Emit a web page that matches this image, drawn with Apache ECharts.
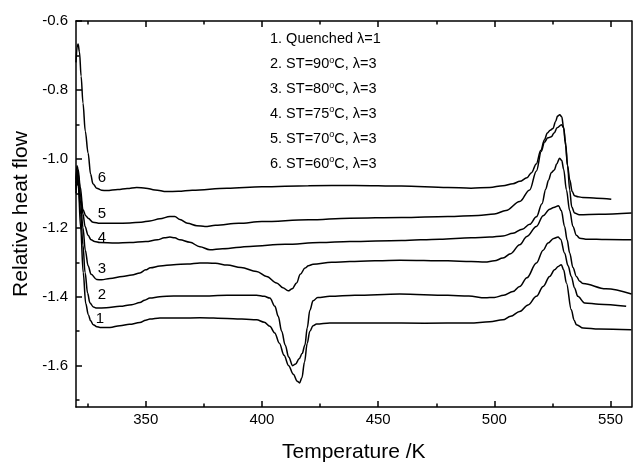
<!DOCTYPE html>
<html>
<head>
<meta charset="utf-8">
<script src="https://cdn.jsdelivr.net/npm/echarts@6/dist/echarts.min.js"></script>
<style>html,body{margin:0;padding:0;background:#fff}#c{width:633px;height:463px}</style>
</head>
<body>
<div id="c"></div>
<script>
// ---- data (Temperature K, relative heat flow) ----
const curve1 = [[320.0,-1.10],[320.4,-1.06],[321.0,-1.08],[322,-1.20],[323.1,-1.33],[324.2,-1.42],[325.3,-1.452],[326.3,-1.470],[327.4,-1.481],[329,-1.487],[330.3,-1.489],[334.6,-1.489],[338.9,-1.484],[343,-1.480],[347.5,-1.475],[350,-1.468],[351.8,-1.465],[356.1,-1.462],[365,-1.462],[373.3,-1.461],[385,-1.463],[397.7,-1.467],[401,-1.474],[403.4,-1.486],[405.5,-1.505],[407.5,-1.535],[409.5,-1.57],[411.5,-1.60],[413.5,-1.625],[415.2,-1.645],[416.2,-1.650],[417.2,-1.635],[418.3,-1.590],[419.5,-1.535],[420.6,-1.50],[422,-1.484],[423.5,-1.479],[429.2,-1.476],[450,-1.476],[470,-1.477],[489.4,-1.476],[498,-1.473],[503.7,-1.467],[507,-1.457],[510.9,-1.443],[514.5,-1.424],[518.1,-1.399],[521,-1.370],[523.8,-1.341],[525.9,-1.322],[527.5,-1.312],[528.8,-1.307],[529.8,-1.322],[531,-1.360],[533.1,-1.438],[534.3,-1.468],[535.3,-1.481],[538.2,-1.491],[545,-1.494],[559,-1.496]];
const curve2 = [[320.0,-1.09],[320.4,-1.05],[321.0,-1.07],[322,-1.16],[323.0,-1.25],[323.9,-1.33],[325,-1.39],[326.0,-1.418],[327.5,-1.430],[328.9,-1.433],[333,-1.432],[338.9,-1.428],[344,-1.423],[347.5,-1.417],[349.5,-1.410],[351.8,-1.404],[356,-1.400],[362,-1.398],[373.3,-1.398],[385,-1.396],[397.7,-1.396],[401,-1.399],[403.4,-1.404],[405.6,-1.428],[407,-1.457],[408.5,-1.50],[410,-1.54],[411.5,-1.575],[413.2,-1.600],[414.5,-1.595],[416,-1.580],[417.3,-1.565],[418.5,-1.540],[419.5,-1.49],[420.6,-1.44],[422,-1.412],[424,-1.402],[429.2,-1.399],[440,-1.396],[459.3,-1.392],[480,-1.396],[489,-1.398],[496,-1.403],[500,-1.402],[504,-1.396],[508,-1.385],[510.9,-1.370],[514,-1.345],[518.1,-1.302],[521,-1.265],[523.1,-1.244],[525.5,-1.231],[527.4,-1.227],[528.5,-1.233],[530.2,-1.273],[531.7,-1.31],[533.1,-1.341],[534.5,-1.375],[535.9,-1.399],[538.8,-1.418],[545,-1.422],[556.7,-1.428]];
const curve3 = [[320.0,-1.08],[320.4,-1.04],[321.0,-1.06],[322,-1.13],[323.0,-1.20],[324.0,-1.265],[325.2,-1.31],[326.5,-1.335],[328.9,-1.350],[331,-1.351],[334.6,-1.347],[340,-1.341],[344,-1.337],[347.5,-1.331],[350,-1.322],[352,-1.316],[356.1,-1.311],[362,-1.307],[368,-1.305],[373.3,-1.302],[380,-1.303],[385,-1.308],[391,-1.315],[397.7,-1.327],[402,-1.341],[406.3,-1.360],[409,-1.374],[411.3,-1.383],[413,-1.377],[414.9,-1.360],[416.5,-1.335],[418.5,-1.317],[420,-1.310],[422,-1.306],[430,-1.300],[437.8,-1.298],[459.3,-1.294],[480,-1.296],[490,-1.298],[496,-1.299],[500,-1.296],[503.7,-1.288],[507,-1.275],[510.9,-1.249],[514,-1.225],[518.1,-1.196],[521,-1.165],[523.8,-1.146],[525.5,-1.141],[527.6,-1.136],[528.8,-1.150],[530.2,-1.196],[531.3,-1.235],[532.4,-1.273],[533.8,-1.315],[535.3,-1.341],[536.7,-1.355],[538.2,-1.362],[548,-1.377],[559,-1.392]];
const curve4 = [[320.0,-1.07],[320.4,-1.03],[321.0,-1.045],[322,-1.11],[323.0,-1.16],[323.9,-1.196],[325.2,-1.222],[326.5,-1.235],[328,-1.240],[330.3,-1.243],[337,-1.244],[343.2,-1.243],[350,-1.240],[355,-1.235],[358,-1.229],[360.4,-1.227],[362.5,-1.229],[364.7,-1.235],[369,-1.242],[373.3,-1.255],[377.6,-1.264],[383,-1.261],[394.8,-1.254],[410,-1.248],[425,-1.243],[437.8,-1.240],[460,-1.237],[476.5,-1.233],[490,-1.229],[498,-1.227],[503.7,-1.224],[508,-1.216],[512,-1.204],[515.2,-1.19],[518.1,-1.168],[520.5,-1.13],[522.1,-1.088],[523.3,-1.062],[524.5,-1.040],[525.8,-1.032],[526.8,-1.015],[528.1,-0.998],[529,-1.005],[529.8,-1.03],[531,-1.09],[532.4,-1.15],[533.8,-1.196],[535.3,-1.222],[536.7,-1.230],[540,-1.233],[548,-1.234],[559,-1.235]];
const curve5 = [[320.0,-1.06],[320.4,-1.02],[320.9,-1.03],[321.8,-1.08],[323.0,-1.148],[324.2,-1.165],[325.2,-1.172],[327.3,-1.184],[330.3,-1.187],[337,-1.187],[343.2,-1.186],[348,-1.184],[351.8,-1.180],[356.1,-1.174],[360.4,-1.167],[362.5,-1.167],[364.7,-1.176],[368,-1.187],[372,-1.194],[375.5,-1.196],[380,-1.193],[390,-1.187],[400,-1.182],[420,-1.177],[437.8,-1.172],[460,-1.170],[480,-1.167],[493,-1.164],[500,-1.160],[505,-1.150],[510.9,-1.124],[515.2,-1.090],[518.1,-1.035],[520.2,-0.978],[521.5,-0.952],[523,-0.939],[524.5,-0.936],[525.7,-0.925],[527,-0.910],[528.9,-0.901],[529.8,-0.91],[530.6,-0.95],[531.5,-1.02],[532.4,-1.09],[533.3,-1.14],[534.5,-1.157],[536.5,-1.162],[545,-1.161],[559,-1.157]];
const curve6 = [[320.0,-0.72],[320.5,-0.675],[320.9,-0.667],[321.5,-0.69],[322.2,-0.76],[323.0,-0.838],[324.0,-0.92],[325.2,-0.983],[326.3,-1.045],[327.3,-1.072],[328.9,-1.085],[331,-1.091],[333.2,-1.092],[338,-1.089],[342,-1.086],[346.1,-1.083],[350,-1.085],[354,-1.090],[359.0,-1.095],[364,-1.094],[370,-1.091],[385,-1.085],[400,-1.081],[420,-1.078],[440,-1.077],[460,-1.079],[480,-1.083],[490,-1.085],[498,-1.083],[503.7,-1.078],[508,-1.072],[511,-1.065],[514,-1.055],[516,-1.040],[518,-1.015],[520,-0.975],[521.5,-0.945],[522.8,-0.925],[524,-0.917],[525.2,-0.912],[526.3,-0.892],[527.2,-0.876],[528.1,-0.872],[529,-0.878],[529.8,-0.91],[530.6,-0.96],[531.5,-1.02],[532.4,-1.06],[533.5,-1.095],[534.5,-1.107],[536,-1.110],[538,-1.112],[544,-1.114],[550.3,-1.117]];

const curves = [curve1, curve2, curve3, curve4, curve5, curve6];
const curveNames = ['1', '2', '3', '4', '5', '6'];
const curveLabelAt = [[330.3,-1.464],[331.2,-1.396],[331.2,-1.319],[331.2,-1.229],[331.2,-1.159],[331.2,-1.054]];

const legendTexts = [
  ['1. Quenched λ=1'],
  ['2. ST=90', 'o', 'C, λ=3'],
  ['3. ST=80', 'o', 'C, λ=3'],
  ['4. ST=75', 'o', 'C, λ=3'],
  ['5. ST=70', 'o', 'C, λ=3'],
  ['6. ST=60', 'o', 'C, λ=3']
];

const xMajorTicks = [350, 400, 450, 500, 550];
const xMinorTicks = [325, 375, 425, 475, 525];
const yMajorTicks = [-1.6, -1.4, -1.2, -1.0, -0.8, -0.6];
const yMinorTicks = [-1.7, -1.5, -1.3, -1.1, -0.9, -0.7];

const X_MIN = 320, X_MAX = 559, Y_MIN = -1.72, Y_MAX = -0.6;
const FONT = '"Liberation Sans", Arial, sans-serif';

const chart = echarts.init(document.getElementById('c'), null, {renderer: 'canvas'});

function xAx(pos, ticks, len, showLine, labels, name) {
  const a = {
    type: 'value', position: pos, min: X_MIN, max: X_MAX,
    axisLine: {show: showLine, onZero: false, lineStyle: {color: '#000', width: 1.5}},
    axisTick: {show: true, inside: true, length: len, customValues: ticks, lineStyle: {color: '#000', width: 1.5}},
    axisLabel: labels ? {show: true, customValues: ticks, fontSize: 15, color: '#000', fontFamily: FONT, margin: 5} : {show: false},
    splitLine: {show: false}
  };
  if (name) {
    a.name = name; a.nameLocation = 'middle'; a.nameGap = 35;
    a.nameTextStyle = {fontSize: 21, color: '#000', fontFamily: FONT};
  }
  return a;
}
function yAx(pos, ticks, len, showLine, labels, name, tickShow) {
  const a = {
    type: 'value', position: pos, min: Y_MIN, max: Y_MAX,
    axisLine: {show: showLine, onZero: false, lineStyle: {color: '#000', width: 1.5}},
    axisTick: {show: tickShow !== false, inside: true, length: len, customValues: ticks, lineStyle: {color: '#000', width: 1.5}},
    axisLabel: labels ? {show: true, customValues: ticks, fontSize: 15, color: '#000', fontFamily: FONT, margin: 8,
      formatter: v => v.toFixed(1)} : {show: false},
    splitLine: {show: false}
  };
  if (name) {
    a.name = name; a.nameLocation = 'middle'; a.nameGap = 43;
    a.nameTextStyle = {fontSize: 21, color: '#000', fontFamily: FONT};
  }
  return a;
}

const series = curves.map((d, i) => ({
  type: 'line',
  name: curveNames[i],
  data: d,
  xAxisIndex: 0, yAxisIndex: 0,
  showSymbol: false, symbol: 'none',
  smooth: 0.35, smoothMonotone: 'x',
  lineStyle: {color: '#000', width: 1.5},
  silent: true,
  markPoint: {
    symbol: 'rect', symbolSize: 1, itemStyle: {color: 'rgba(0,0,0,0)'},
    label: {show: true, position: 'inside', formatter: curveNames[i], fontSize: 15, color: '#000', fontFamily: FONT},
    data: [{coord: curveLabelAt[i]}]
  }
}));

const graphics = legendTexts.map((parts, i) => {
  let text;
  if (parts.length === 1) text = '{m|' + parts[0] + '}';
  else text = '{m|' + parts[0] + '}{s|' + parts[1] + '}{m|' + parts[2] + '}';
  return {
    type: 'text', left: 270, top: 31 + i * 24.8,
    style: {
      text: text,
      rich: {
        m: {fontSize: 14.5, fontFamily: FONT, fill: '#000', lineHeight: 17},
        s: {fontSize: 9, fontFamily: FONT, fill: '#000', lineHeight: 9, verticalAlign: 'top'}
      }
    }
  };
});

chart.setOption({
  animation: false,
  backgroundColor: '#fff',
  grid: {left: 76, right: 1.5, top: 21, bottom: 56, outerBoundsMode: 'none', containLabel: false},
  xAxis: [
    xAx('bottom', xMajorTicks, 6, true, true, 'Temperature /K'),
    xAx('bottom', xMinorTicks, 3.5, false, false),
    xAx('top', xMajorTicks, 6, true, false),
    xAx('top', xMinorTicks, 3.5, false, false)
  ],
  yAxis: [
    yAx('left', yMajorTicks, 6, true, true, 'Relative heat flow'),
    yAx('left', yMinorTicks, 3.5, false, false),
    yAx('right', yMajorTicks, 0, true, false, null, false)
  ],
  series: series,
  graphic: graphics
});
</script>
</body>
</html>
